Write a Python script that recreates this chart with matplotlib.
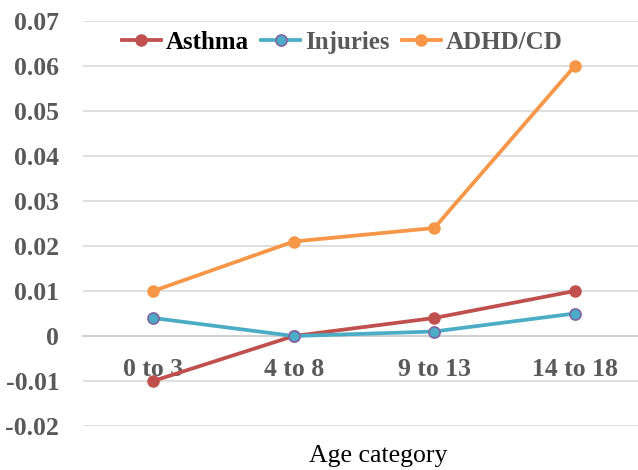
import matplotlib.pyplot as plt
from matplotlib.ticker import FuncFormatter

ages = ['0 to 3', '4 to 8', '9 to 13', '14 to 18']
asthma = [-0.010, 0.000, 0.004, 0.010]
injuries = [0.004, 0.000, 0.001, 0.005]
adhd = [0.010, 0.021, 0.024, 0.060]

plt.rcParams['font.family'] = ['Liberation Serif', 'DejaVu Serif']
grey = '#595959'

fig = plt.figure(figsize=(6.38, 4.70), dpi=100)
ax = fig.add_axes([0.130, 0.0936, 0.870, 0.8617])

x = range(len(ages))
ax.plot(x, asthma, color='#c0504d', lw=2.7, marker='o', ms=8, label='Asthma', zorder=3)
ax.plot(x, injuries, color='#4bacc6', lw=2.7, marker='o', ms=8, mfc='#4bacc6',
        mec='#8064a2', mew=1.2, label='Injuries', zorder=3)
ax.plot(x, adhd, color='#f79646', lw=2.7, marker='o', ms=8, label='ADHD/CD', zorder=3)

ax.set_ylim(-0.02, 0.07)
ax.set_yticks([i / 100 for i in range(-2, 8)])
ax.yaxis.set_major_formatter(FuncFormatter(lambda v, p: '0' if abs(v) < 1e-9 else '%.2f' % v))
ax.set_xlim(-0.5, 3.45)
ax.set_xticks(list(x))
ax.set_xticklabels(ages)

ax.grid(axis='y', color='#d9d9d9', lw=1.2)
ax.set_axisbelow(True)
for s in ['top', 'right', 'left']:
    ax.spines[s].set_visible(False)
ax.spines['bottom'].set_position(('data', 0))
ax.spines['bottom'].set_color('#d0d0d0')
ax.spines['bottom'].set_linewidth(1.5)
ax.spines['bottom'].set_zorder(1)

ax.tick_params(axis='both', length=0, labelsize=18.5, labelcolor=grey)
ax.tick_params(axis='x', pad=16)
ax.tick_params(axis='y', pad=17)
for lab in ax.get_xticklabels() + ax.get_yticklabels():
    lab.set_fontweight('bold')

fig.text(0.592, 0.030, 'Age category', ha='center', va='center', fontsize=18.5, color='black')

leg = ax.legend(loc='center', bbox_to_anchor=(0.467, 0.948), ncol=3, frameon=False,
                handlelength=1.55, columnspacing=0.5, handletextpad=0.2,
                prop={'weight': 'bold', 'size': 18})
for i, t in enumerate(leg.get_texts()):
    t.set_color('black' if i == 0 else grey)

fig.savefig('out.png', dpi=100)
